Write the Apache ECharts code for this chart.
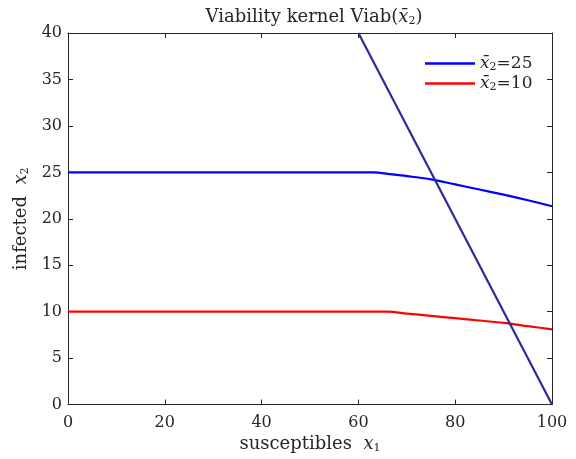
<!DOCTYPE html>
<html><head><meta charset="utf-8">
<script src="https://cdn.jsdelivr.net/npm/echarts@6/dist/echarts.min.js"></script>
<style>html,body{margin:0;padding:0;background:#fff}#c{width:576px;height:459px}</style>
</head><body><div id="c"></div>
<script>
const xHigh = [0, 63, 67, 70, 75, 80, 85, 90, 95, 100];
const yHigh = [25, 25, 24.78, 24.6, 24.25, 23.7, 23.15, 22.6, 22.0, 21.35];
const xLow = [0, 66, 70, 75, 80, 85, 90, 95, 100];
const yLow = [10, 10, 9.8, 9.55, 9.3, 9.05, 8.8, 8.45, 8.1];
const xBound = [60, 100];
const yBound = [40, 0];
const seriesNames = ['x2bar=25', 'x2bar=10'];
const legendLabels = {'x2bar=25': '25', 'x2bar=10': '10'};

const F = 'DejaVu Serif, Liberation Serif, serif';
const C = '#262626';
const pairs = (xs, ys) => xs.map((x, i) => [x, ys[i]]);
const rich = (fs, sub, pad) => ({
  n: {fontFamily: F, fontSize: fs, color: C},
  i: {fontFamily: F, fontSize: fs, fontStyle: 'italic', color: C},
  s: {fontFamily: F, fontSize: sub, color: C, verticalAlign: 'bottom', padding: [pad, 0, 0, 0]}
});
const chart = echarts.init(document.getElementById('c'));
const mkLine = () => ({show: true, onZero: false, lineStyle: {color: C, width: 1}});
const mkTick = () => ({show: true, inside: true, length: 5, lineStyle: {color: C}});
chart.setOption({
  animation: false,
  title: {
    text: '{n|Viability kernel Viab(}{i|x̄}{s|2}{n|)}',
    left: 309, top: 3, textAlign: 'center',
    textStyle: {fontWeight: 'normal', rich: rich(18, 11, 8)}
  },
  legend: {
    data: seriesNames,
    left: 420, top: 50, orient: 'vertical',
    icon: 'rect', itemWidth: 50, itemHeight: 2.5, itemGap: 2,
    formatter: n => '{i|x̄}{s|2}{n|=' + legendLabels[n] + '}',
    textStyle: {rich: rich(17, 11, 8)}
  },
  grid: {left: 68, right: 24, top: 33, bottom: 51},
  xAxis: [{
    type: 'value', min: 0, max: 100, interval: 20, position: 'bottom',
    axisLine: mkLine(), axisTick: mkTick(), splitLine: {show: false},
    axisLabel: {fontFamily: F, fontSize: 16, color: C, margin: 10},
    name: '{n|susceptibles  }{i|x}{s|1}', nameLocation: 'middle', nameGap: 27,
    nameTextStyle: {rich: rich(18, 11, 8)}
  }, {
    type: 'value', min: 0, max: 100, interval: 20, position: 'top',
    axisLine: mkLine(), axisTick: mkTick(), splitLine: {show: false}, axisLabel: {show: false}
  }],
  yAxis: [{
    type: 'value', min: 0, max: 40, interval: 5, position: 'left',
    axisLine: mkLine(), axisTick: mkTick(), splitLine: {show: false},
    axisLabel: {fontFamily: F, fontSize: 16, color: C, margin: 6},
    name: '{n|infected  }{i|x}{s|2}', nameLocation: 'middle', nameGap: 31, nameRotate: 90,
    nameTextStyle: {rich: rich(18, 11, 8)}
  }, {
    type: 'value', min: 0, max: 40, interval: 5, position: 'right',
    axisLine: mkLine(), axisTick: mkTick(), splitLine: {show: false}, axisLabel: {show: false}
  }],
  series: [
    {name: seriesNames[0], type: 'line', data: pairs(xHigh, yHigh), smooth: 0.3, symbol: 'none',
     lineStyle: {color: '#0000ff', width: 2.2}, itemStyle: {color: '#0000ff'}},
    {name: seriesNames[1], type: 'line', data: pairs(xLow, yLow), smooth: 0.3, symbol: 'none',
     lineStyle: {color: '#ff0000', width: 2.2}, itemStyle: {color: '#ff0000'}},
    {name: 'boundary', type: 'line', data: pairs(xBound, yBound), symbol: 'none',
     lineStyle: {color: '#2b2b9b', width: 2.2}, itemStyle: {color: '#2b2b9b'}}
  ]
});
</script></body></html>
